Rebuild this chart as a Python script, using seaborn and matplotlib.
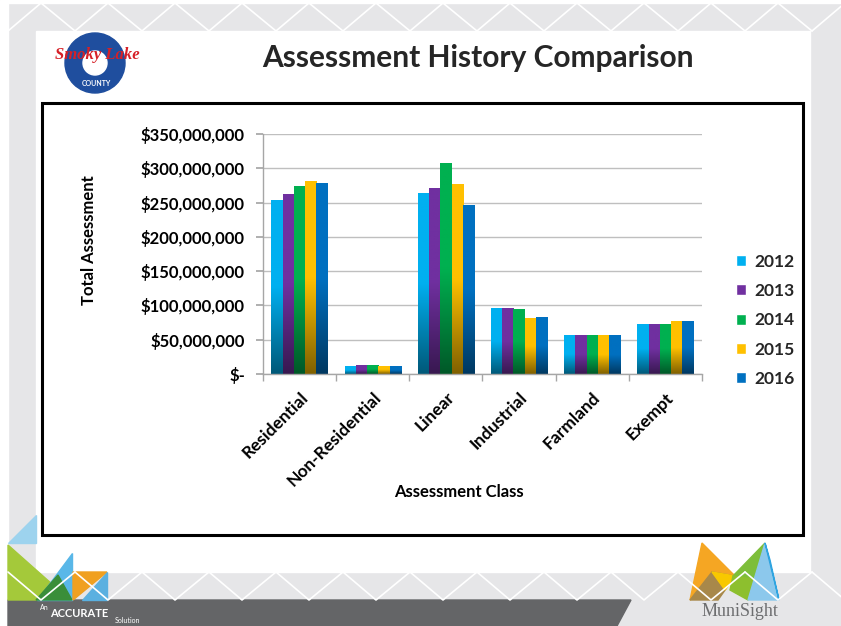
import numpy as np
import pandas as pd
import matplotlib
matplotlib.use("Agg")
import matplotlib.pyplot as plt
import seaborn as sns
from matplotlib.colors import LinearSegmentedColormap, to_rgb
from matplotlib.patches import Rectangle, Polygon, Circle
from matplotlib.ticker import FuncFormatter, MultipleLocator, FixedLocator

# --- data (millions of dollars) ---
classes = ["Residential", "Non-Residential", "Linear", "Industrial", "Farmland", "Exempt"]
years = ["2012", "2013", "2014", "2015", "2016"]
v2012 = [254, 11, 264, 96, 57, 73]
v2013 = [263, 12.5, 271, 96, 57, 73]
v2014 = [274, 13.5, 308, 95, 57, 73]
v2015 = [281, 12, 277, 81.5, 56.3, 77]
v2016 = [278, 11.5, 246, 82.5, 56.3, 76.7]
colors = ["#00B0F0", "#7030A0", "#00B050", "#FFC000", "#0070C0"]

rows = []
for yr, vals in zip(years, [v2012, v2013, v2014, v2015, v2016]):
    for c, v in zip(classes, vals):
        rows.append({"cls": c, "year": yr, "value": v * 1e6})
df = pd.DataFrame(rows)

sns.set_theme(style="white")
plt.rcParams["font.family"] = ["Lato", "DejaVu Sans"]

W, H = 841, 626
fig = plt.figure(figsize=(W / 100, H / 100), dpi=100)
fig.patch.set_facecolor("#E6E6E8")

# background slide decoration, drawn in pixel coordinates
bg = fig.add_axes([0, 0, 1, 1], zorder=0)
bg.set_xlim(0, W)
bg.set_ylim(H, 0)
bg.axis("off")
bg.add_patch(Rectangle((0, 0), 8, H, color="white"))
bg.add_patch(Rectangle((0, 0), W, 3, color="white"))
# faint zigzag pattern
xs = np.arange(8, W + 70, 67)
for x in xs:
    bg.plot([x, x + 33, x + 67], [31, 3, 31], color="white", lw=1.2)
    bg.plot([x, x + 33, x + 67], [572, 600, 572], color="white", lw=1.2)
bg.add_patch(Rectangle((36, 31), 774, 541, color="white"))
bg.add_patch(Rectangle((42, 103), 761, 432, fill=False, ec="black", lw=2.2))
bg.add_patch(Polygon([(8, 600), (631, 600), (617, 626), (8, 626)], color="#646567"))

# bottom-left triangles
bg.add_patch(Polygon([(36, 515), (36, 543), (8, 543)], color="#9DD3EE"))
bg.add_patch(Polygon([(8, 545), (70, 600), (8, 600)], color="#A4C93A"))
bg.add_patch(Polygon([(72, 553), (72, 600), (37, 600)], color="#59B7E8"))
bg.add_patch(Polygon([(36, 600), (58, 575), (72, 600)], color="#3A8E3A"))
bg.add_patch(Polygon([(73, 572), (107, 572), (73, 600)], color="#F0A020"))
bg.add_patch(Polygon([(107, 572), (107, 600), (82, 600)], color="#5AB0E0"))
bg.text(40, 610, "An", color="white", fontsize=5)
bg.text(50, 617, "ACCURATE", color="white", fontsize=8, fontweight="bold")
bg.text(115, 623, "Solution", color="white", fontsize=5)

# MuniSight logo
bg.add_patch(Polygon([(702, 543), (690, 600), (735, 576)], color="#F5A623"))
bg.add_patch(Polygon([(690, 600), (712, 572), (735, 576), (718, 600)], color="#A8884A"))
bg.add_patch(Polygon([(712, 572), (735, 576), (725, 590)], color="#F8C800"))
bg.add_patch(Polygon([(765, 543), (733, 576), (760, 580)], color="#7DBE3A"))
bg.add_patch(Polygon([(733, 576), (760, 580), (748, 600), (730, 590)], color="#8DBF2E"))
bg.add_patch(Polygon([(765, 543), (779, 600), (748, 600)], color="#8CC8EC"))
bg.add_patch(Polygon([(765, 543), (779, 600), (770, 560)], color="#2FA4E0"))
bg.text(740, 612, "MuniSight", color="#6D6E70", fontsize=13, ha="center", va="center",
        family=["Liberation Serif", "DejaVu Serif"])

# Smoky Lake County logo
bg.add_patch(Circle((95, 63), 30, color="#1F4E9E"))
bg.add_patch(Circle((95, 63), 12, color="white"))
bg.text(97, 55, "Smoky Lake", color="#D62027", fontsize=12, ha="center", va="center",
        fontweight="bold", style="italic", family=["Liberation Serif", "DejaVu Serif"])
bg.text(96, 84, "COUNTY", color="white", fontsize=5, ha="center", va="center", fontweight="bold")

fig.text(478 / W, 1 - 58 / H, "Assessment History Comparison", ha="center", va="center",
         fontsize=21.5, fontweight="bold")

# --- chart ---
ax = fig.add_axes([263 / W, 1 - 374 / H, (702 - 263) / W, (374 - 134) / H], zorder=1)
ax.patch.set_alpha(0)
sns.barplot(data=df, x="cls", y="value", hue="year", palette=colors, width=0.77,
            saturation=1, linewidth=0, legend=False, ax=ax)

# vertical gradient inside every bar, darker towards the base
grad = np.linspace(0, 1, 256).reshape(-1, 1)
for patch in list(ax.patches):
    base = np.array(to_rgb(patch.get_facecolor()))
    cmap = LinearSegmentedColormap.from_list("g", [base * 0.5, base, base])
    x0, w, h = patch.get_x(), patch.get_width(), patch.get_height()
    im = ax.imshow(grad, extent=[x0, x0 + w, 0, h], origin="lower", aspect="auto",
                   cmap=cmap, zorder=patch.get_zorder() + 0.1)
    im.set_clip_path(patch)

ax.set_xlim(-0.5, 5.5)
ax.set_ylim(0, 350e6)
ax.yaxis.set_major_locator(MultipleLocator(50e6))
ax.yaxis.set_major_formatter(FuncFormatter(lambda v, p: "$-" if v == 0 else f"${v:,.0f}"))
ax.yaxis.grid(True, color="#BFBFBF", lw=1)
ax.set_axisbelow(True)
for s in ["top", "right"]:
    ax.spines[s].set_visible(False)
for s in ["left", "bottom"]:
    ax.spines[s].set_color("#A6A6A6")
    ax.spines[s].set_linewidth(1)

ax.xaxis.set_minor_locator(FixedLocator(np.arange(-0.5, 6, 1)))
ax.tick_params(axis="x", which="major", length=0, pad=11)
ax.tick_params(axis="x", which="minor", bottom=True, length=5, color="#A6A6A6")
ax.tick_params(axis="y", left=True, length=5, color="#A6A6A6", pad=8)
for lab in ax.get_yticklabels():
    lab.set_fontsize(12)
    lab.set_fontweight("bold")
    lab.set_color("black")
ax.set_xticks(range(len(classes)))
ax.set_xticklabels(classes, rotation=45, ha="right", rotation_mode="anchor",
                   fontsize=12.5, fontweight="bold", color="black")

ax.set_xlabel("Assessment Class", fontsize=12, fontweight="bold", color="black")
ax.set_ylabel("Total Assessment", fontsize=12, fontweight="bold", color="black")
ax.xaxis.set_label_coords((459 - 263) / 439, (374 - 484) / 240)
ax.yaxis.set_label_coords((97 - 263) / 439, (374 - 240) / 240)

handles = [Rectangle((0, 0), 1, 1, fc=c) for c in colors]
fig.legend(handles, years, loc="upper left", bbox_to_anchor=(720 / W, 1 - 238 / H),
           frameon=False, handlelength=0.6, handleheight=0.6, handletextpad=0.5,
           labelspacing=0.77, prop={"size": 12.5, "weight": "bold"})

fig.savefig("out.png", dpi=100, facecolor=fig.get_facecolor())
